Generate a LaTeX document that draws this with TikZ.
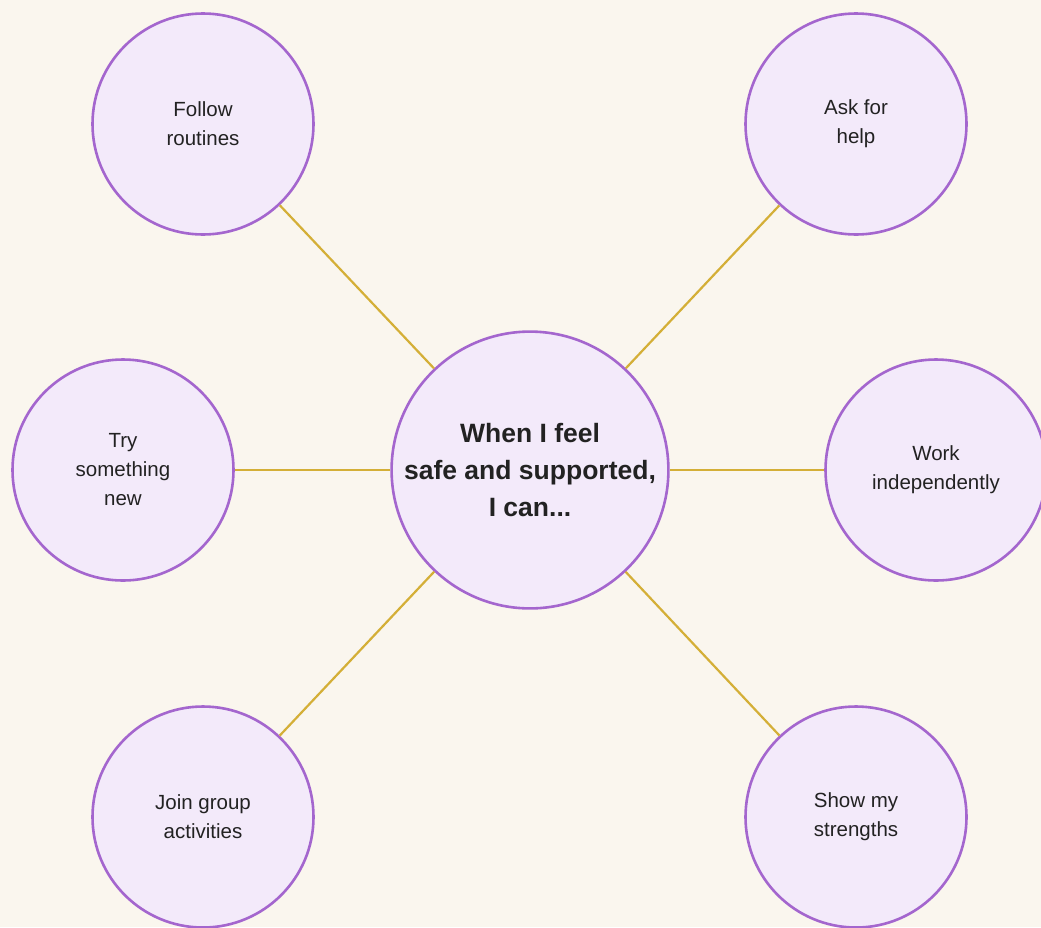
\documentclass[tikz,border=0pt]{standalone}
\usepackage{fontspec}
\setmainfont{Liberation Sans}
\usepackage{tikz}
\usetikzlibrary{positioning}
\usepackage{xcolor}
\definecolor{bgcream}{RGB}{250,246,238}
\definecolor{circlefill}{RGB}{243,234,250}
\definecolor{circledraw}{RGB}{164,102,206}
\definecolor{linkgold}{RGB}{212,175,55}
\definecolor{textdark}{RGB}{34,34,34}
\tikzstyle{link} = [line width=2.2pt, color=linkgold]
\tikzstyle{hub} = [circle, draw=circledraw, fill=circlefill, line width=2.6pt, minimum size=275pt, align=center, text=textdark, font=\fontsize{26.5}{37}\selectfont\bfseries]
\tikzstyle{spoke} = [circle, draw=circledraw, fill=circlefill, line width=2.6pt, minimum size=221pt, align=center, text=textdark, font=\fontsize{20.5}{29}\selectfont]

\begin{document}
\begin{tikzpicture}[x=1pt, y=-1pt]
% Background
\fill[bgcream] (0,0) rectangle (1041,927);
\useasboundingbox (0,0) rectangle (1041,927);

% Center node
\node[hub] (center) at (530,470) {When I feel\\safe and supported,\\I can...};

% Outer nodes
\node[spoke] (routines) at (203,124) {Follow\\routines};
\node[spoke] (help) at (856,124) {Ask for\\help};
\node[spoke] (new) at (123,470) {Try\\something\\new};
\node[spoke] (indep) at (936,470) {Work\\independently};
\node[spoke] (group) at (203,817) {Join group\\activities};
\node[spoke] (strengths) at (856,817) {Show my\\strengths};

% Links
\foreach \n in {routines,help,new,indep,group,strengths}
  \draw[link] (center) -- (\n);
\end{tikzpicture}
\end{document}
